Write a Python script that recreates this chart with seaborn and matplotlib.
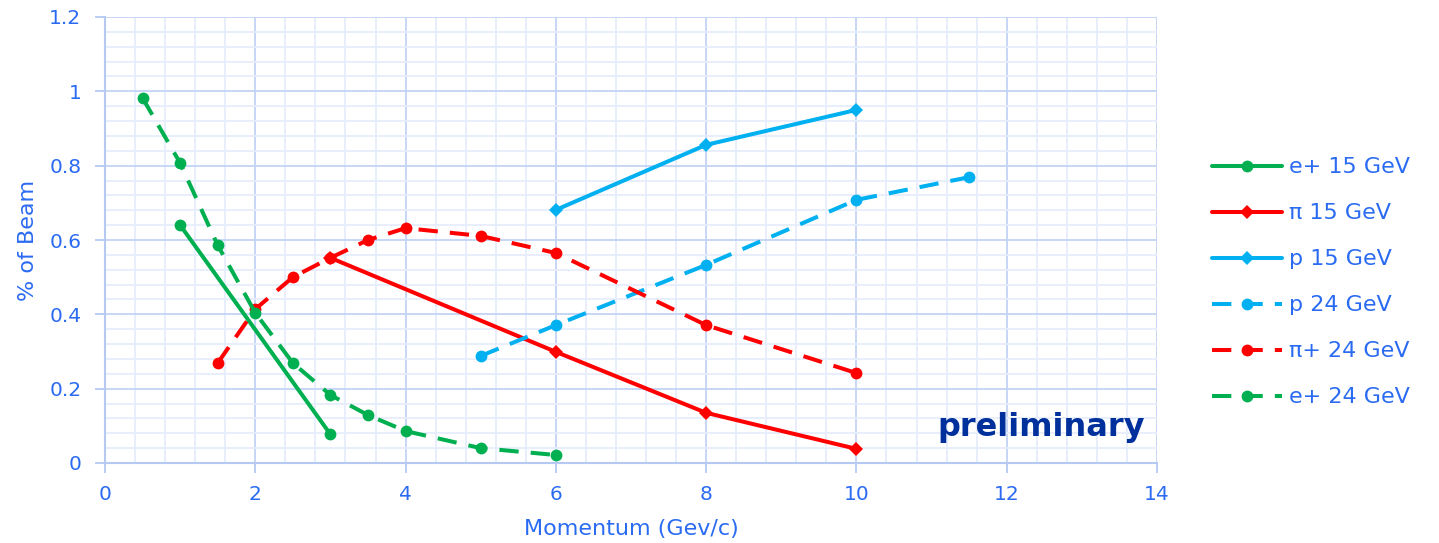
import matplotlib
matplotlib.use("Agg")
import matplotlib.pyplot as plt
from matplotlib.ticker import MultipleLocator
import seaborn as sns
import pandas as pd

# Beam composition vs. momentum
e15_p = [1, 3]
e15_v = [0.64, 0.077]

pi15_p = [3, 6, 8, 10]
pi15_v = [0.552, 0.299, 0.135, 0.038]

p15_p = [6, 8, 10]
p15_v = [0.681, 0.856, 0.950]

p24_p = [5, 6, 8, 10, 11.5]
p24_v = [0.288, 0.371, 0.533, 0.708, 0.769]

pi24_p = [1.5, 2, 2.5, 3, 3.5, 4, 5, 6, 8, 10]
pi24_v = [0.269, 0.414, 0.500, 0.552, 0.600, 0.632, 0.611, 0.565, 0.371, 0.242]

e24_p = [0.5, 1, 1.5, 2, 2.5, 3, 3.5, 4, 5, 6]
e24_v = [0.982, 0.807, 0.586, 0.404, 0.269, 0.183, 0.129, 0.086, 0.040, 0.0215]

labels = ["e+ 15 GeV", "π 15 GeV", "p 15 GeV", "p 24 GeV", "π+ 24 GeV", "e+ 24 GeV"]
x_ticks = [0, 2, 4, 6, 8, 10, 12, 14]
y_ticks = [0, 0.2, 0.4, 0.6, 0.8, 1.0, 1.2]
y_tick_labels = ["0", "0.2", "0.4", "0.6", "0.8", "1", "1.2"]

sns.set_theme(style="white")
plt.rcParams["font.family"] = ["DejaVu Sans"]

GREEN = "#00B050"
RED = "#FF0000"
CYAN = "#00B0F0"
TEXT = "#2A6BF2"
SOLID = "-"
DASH = (0, (4.8, 3.0))

styles = [
    (e15_p, e15_v, GREEN, "o", 8.5, SOLID),
    (pi15_p, pi15_v, RED, "D", 7, SOLID),
    (p15_p, p15_v, CYAN, "D", 7, SOLID),
    (p24_p, p24_v, CYAN, "o", 8.5, DASH),
    (pi24_p, pi24_v, RED, "o", 8.5, DASH),
    (e24_p, e24_v, GREEN, "o", 8.5, DASH),
]

fig = plt.figure(figsize=(14.39, 5.43), dpi=100)
ax = fig.add_axes([105 / 1439, 1 - 463 / 543, (1157 - 105) / 1439, (463 - 17) / 543])

for (xs, ys, col, mk, ms, ls), lab in zip(styles, labels):
    df = pd.DataFrame({"p": xs, "v": ys})
    sns.lineplot(data=df, x="p", y="v", ax=ax, color=col, marker=mk, markersize=ms,
                 markeredgewidth=0, linewidth=2.9, linestyle=ls, label=lab,
                 sort=False, estimator=None)

ax.set_xlim(0, 14)
ax.set_ylim(0, 1.2)
ax.set_xticks(x_ticks)
ax.set_xticklabels([str(v) for v in x_ticks])
ax.set_yticks(y_ticks)
ax.set_yticklabels(y_tick_labels)
ax.xaxis.set_minor_locator(MultipleLocator(0.4))
ax.yaxis.set_minor_locator(MultipleLocator(0.04))

ax.grid(which="major", color="#C3D3F6", linewidth=1.3)
ax.grid(which="minor", color="#E6EDFC", linewidth=1.3)
ax.set_axisbelow(True)
for side in ["top", "right"]:
    ax.spines[side].set_visible(False)
for side in ["left", "bottom"]:
    ax.spines[side].set_color("#B6C9F2")
    ax.spines[side].set_linewidth(1.5)

ax.tick_params(axis="both", which="major", direction="out", length=7, width=1.3,
               color="#B6C9F2", labelcolor=TEXT, labelsize=14.5, bottom=True, left=True)
ax.tick_params(axis="x", which="major", pad=9)
ax.tick_params(axis="y", which="major", pad=10)
ax.tick_params(which="minor", length=0)

ax.set_xlabel("Momentum (Gev/c)", color=TEXT, fontsize=16, labelpad=11)
ax.set_ylabel("% of Beam", color=TEXT, fontsize=16, labelpad=8)

ax.text(0.988, 0.08, "preliminary", transform=ax.transAxes, ha="right", va="center",
        fontsize=23, fontweight="bold", color="#00309C")

leg = ax.legend(loc="center left", bbox_to_anchor=(1.033, 0.405), frameon=False,
                fontsize=16, handlelength=3.15, labelspacing=1.17, handletextpad=0.32,
                numpoints=1)
for t in leg.get_texts():
    t.set_color(TEXT)

fig.savefig("out.png", dpi=100)
